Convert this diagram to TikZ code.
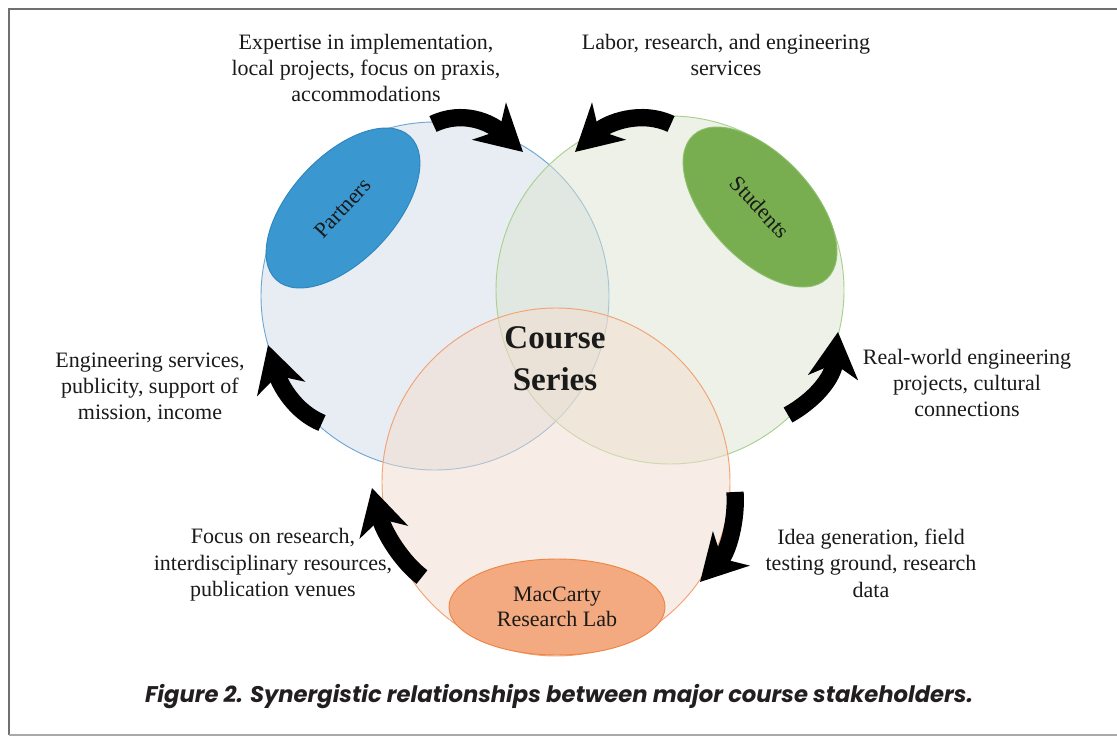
\documentclass[tikz,border=0pt]{standalone}
\usepackage{fontspec}
\setmainfont{Liberation Serif}
\newfontfamily\capfont{Poppins}
\usetikzlibrary{arrows.meta,shapes.geometric}
\definecolor{cpfill}{HTML}{D1DDE9}
\definecolor{csfill}{HTML}{DDE5D1}
\definecolor{clfill}{HTML}{F3DDCF}
\definecolor{cpline}{HTML}{6FA6D6}
\definecolor{csline}{HTML}{A9D18E}
\definecolor{clline}{HTML}{F2A273}
\definecolor{partfill}{HTML}{3A97D0}
\definecolor{partline}{HTML}{2F86BE}
\definecolor{studfill}{HTML}{78AD50}
\definecolor{studline}{HTML}{8CC06A}
\definecolor{labfill}{HTML}{F4AA80}
\definecolor{labline}{HTML}{EE8544}
\definecolor{txt}{HTML}{1A1A1A}
\definecolor{captxt}{HTML}{231F20}
\definecolor{frameline}{HTML}{707070}
\begin{document}
\begin{tikzpicture}[x=0.75pt,y=-0.75pt,
  venn/.style={circle, minimum size=261pt, inner sep=0pt, fill opacity=0.5, line width=0.7pt},
  stake/.style={ellipse, inner sep=0pt, line width=0.7pt, text=txt, align=center,
    font=\fontsize{16.5}{19}\selectfont},
  lbl/.style={align=center, text=txt, inner sep=0pt, font=\fontsize{16.5}{19.8}\selectfont},
  bigarrow/.style={line width=13pt, black, -{Stealth[length=34pt, width=37pt, inset=10pt]}}
]
\useasboundingbox (0,0) rectangle (1117,738);
\fill[white] (0,0) rectangle (1117,738);
\draw[frameline, line width=0.9pt] (1117,9) -- (9,9) -- (9,735);
\draw[frameline!60, line width=0.9pt] (9,735) -- (1117,735);
% Venn circles
\node[venn, fill=cpfill, draw=cpline] (cp) at (435,296) {};
\node[venn, fill=csfill, draw=csline] (cs) at (670,290) {};
\node[venn, fill=clfill, draw=clline] (cl) at (556,482) {};
% stakeholder ellipses
\node[stake, fill=partfill, draw=partline, rotate=47, minimum width=147pt, minimum height=78pt] (partners) at (343,208) {Partners};
\node[stake, fill=studfill, draw=studline, rotate=-47, minimum width=147pt, minimum height=78pt] (students) at (760,207) {Students};
\node[stake, fill=labfill, draw=labline, minimum width=162pt, minimum height=72pt] (lab) at (557,607) {MacCarty\\Research Lab};
% centre text
\node[align=center, text=txt, inner sep=0pt, font=\fontsize{24.8}{31.5}\selectfont\bfseries] (course) at (555,359) {Course\\Series};
% labels
\node[lbl] (l1) at (366,68) {Expertise in implementation,\\local projects, focus on praxis,\\accommodations};
\node[lbl] (l2) at (726,55) {Labor, research, and engineering\\services};
\node[lbl] (l3) at (150,388) {Engineering services,\\publicity, support of\\mission, income};
\node[lbl] (l4) at (967,383) {Real-world engineering\\projects, cultural\\connections};
\node[lbl] (l5) at (273,565) {Focus on research,\\interdisciplinary resources,\\publication venues};
\node[lbl] (l6) at (871,563) {Idea generation, field\\testing ground, research\\data};
% arrows
\coordinate (a1s) at (433,124); \coordinate (a1e) at (523,152);
\coordinate (a2s) at (671,124); \coordinate (a2e) at (575,152);
\coordinate (a3s) at (322,423); \coordinate (a3e) at (268,345);
\coordinate (a4s) at (788,415); \coordinate (a4e) at (838,332);
\coordinate (a5s) at (735,492); \coordinate (a5e) at (700,582);
\coordinate (a6s) at (422,577); \coordinate (a6e) at (372,488);
\draw[bigarrow] (a1s) .. controls (462,110) and (490,122) .. (a1e);
\draw[bigarrow] (a2s) .. controls (642,110) and (608,122) .. (a2e);
\draw[bigarrow] (a3s) .. controls (295,412) and (280,385) .. (a3e);
\draw[bigarrow] (a4s) .. controls (815,400) and (833,378) .. (a4e);
\draw[bigarrow] (a5s) .. controls (737,520) and (728,552) .. (a5e);
\draw[bigarrow] (a6s) .. controls (402,562) and (384,533) .. (a6e);
% caption
\node[text=captxt, inner sep=0pt, font=\capfont\bfseries\itshape\fontsize{17}{20}\selectfont] (cap) at (559,697) {Figure 2. Synergistic relationships between major course stakeholders.};
\end{tikzpicture}
\end{document}
